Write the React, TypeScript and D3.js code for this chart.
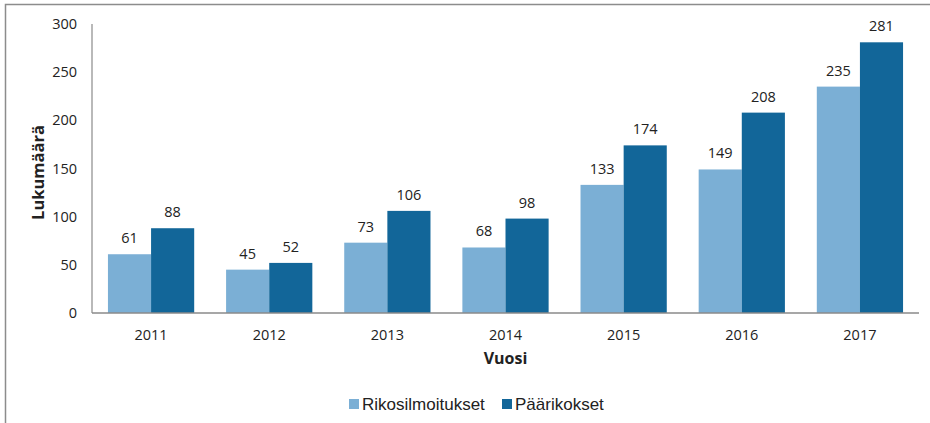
import React, { useEffect, useRef } from 'react';
import * as d3 from 'd3';

const years = ['2011', '2012', '2013', '2014', '2015', '2016', '2017'];
const rikosilmoitukset = [61, 45, 73, 68, 133, 149, 235];
const paarikokset = [88, 52, 106, 98, 174, 208, 281];
const yTicks = [0, 50, 100, 150, 200, 250, 300];
const seriesNames = ['Rikosilmoitukset', 'Päärikokset'];
const colors = ['#7bafd5', '#126699'];

export default function App() {
  const ref = useRef<SVGSVGElement | null>(null);

  useEffect(() => {
    const svg = d3.select(ref.current);
    svg.selectAll('*').remove();

    const width = 930;
    const height = 423;
    const margin = { top: 24, right: 11, bottom: 110, left: 92 };
    const innerW = width - margin.left - margin.right;
    const innerH = height - margin.top - margin.bottom;
    const font = '"Open Sans", "DejaVu Sans", sans-serif';
    const fs = 14.5;

    // outer frame
    svg.append('rect')
      .attr('x', 5.5).attr('y', 4.5)
      .attr('width', 940).attr('height', 440)
      .attr('fill', 'white')
      .attr('stroke', '#8c8c8c')
      .attr('stroke-width', 1.5);

    const g = svg.append('g').attr('transform', `translate(${margin.left},${margin.top})`);

    const x = d3.scaleBand().domain(years).range([0, innerW]).paddingInner(0.27).paddingOuter(0.135);
    const x1 = d3.scaleBand().domain(seriesNames).range([0, x.bandwidth()]);
    const y = d3.scaleLinear().domain([0, 300]).range([innerH, 0]);

    const data = years.map((yr, i) => ({ yr, vals: [rikosilmoitukset[i], paarikokset[i]] }));

    const groups = g.selectAll('g.grp').data(data).enter().append('g')
      .attr('transform', d => `translate(${x(d.yr)},0)`);

    seriesNames.forEach((name, si) => {
      groups.append('rect')
        .attr('x', x1(name)!)
        .attr('y', d => y(d.vals[si]))
        .attr('width', x1.bandwidth())
        .attr('height', d => innerH - y(d.vals[si]))
        .attr('fill', colors[si]);
      groups.append('text')
        .attr('x', x1(name)! + x1.bandwidth() / 2)
        .attr('y', d => y(d.vals[si]) - 11)
        .attr('text-anchor', 'middle')
        .attr('font-family', font)
        .attr('font-size', fs)
        .attr('fill', '#222')
        .text(d => d.vals[si]);
    });

    // axes lines
    g.append('line').attr('x1', 0).attr('x2', 0).attr('y1', 0).attr('y2', innerH)
      .attr('stroke', '#8a8a8a').attr('stroke-width', 1.2);
    g.append('line').attr('x1', 0).attr('x2', innerW).attr('y1', innerH).attr('y2', innerH)
      .attr('stroke', '#8a8a8a').attr('stroke-width', 1.5);

    g.selectAll('text.ytick').data(yTicks).enter().append('text')
      .attr('x', -15)
      .attr('y', d => y(d))
      .attr('dy', '0.35em')
      .attr('text-anchor', 'end')
      .attr('font-family', font)
      .attr('font-size', fs)
      .attr('fill', '#222')
      .text(d => d);

    g.selectAll('text.xtick').data(years).enter().append('text')
      .attr('x', d => x(d)! + x.bandwidth() / 2)
      .attr('y', innerH + 27)
      .attr('text-anchor', 'middle')
      .attr('font-family', font)
      .attr('font-size', fs)
      .attr('fill', '#222')
      .text(d => d);

    g.append('text')
      .attr('x', innerW / 2)
      .attr('y', innerH + 51)
      .attr('text-anchor', 'middle')
      .attr('font-family', font)
      .attr('font-size', 16)
      .attr('font-weight', 'bold')
      .attr('fill', '#222')
      .text('Vuosi');

    g.append('text')
      .attr('transform', `translate(-48,${innerH / 2 + 4}) rotate(-90)`)
      .attr('text-anchor', 'middle')
      .attr('font-family', font)
      .attr('font-size', 16.5)
      .attr('font-weight', 'bold')
      .attr('fill', '#222')
      .text('Lukumäärä');

    // legend
    const legendX = [349, 502];
    const legend = svg.append('g');
    seriesNames.forEach((name, i) => {
      legend.append('rect')
        .attr('x', legendX[i]).attr('y', 399)
        .attr('width', 10).attr('height', 10)
        .attr('fill', colors[i]);
      legend.append('text')
        .attr('x', legendX[i] + 13).attr('y', 410)
        .attr('font-family', '"Liberation Sans", Arial, sans-serif')
        .attr('font-size', 17)
        .attr('fill', '#222')
        .text(name);
    });
  }, []);

  return (
    <svg ref={ref} width={930} height={423}
      style={{ position: 'absolute', left: 0, top: 0, display: 'block' }} />
  );
}
